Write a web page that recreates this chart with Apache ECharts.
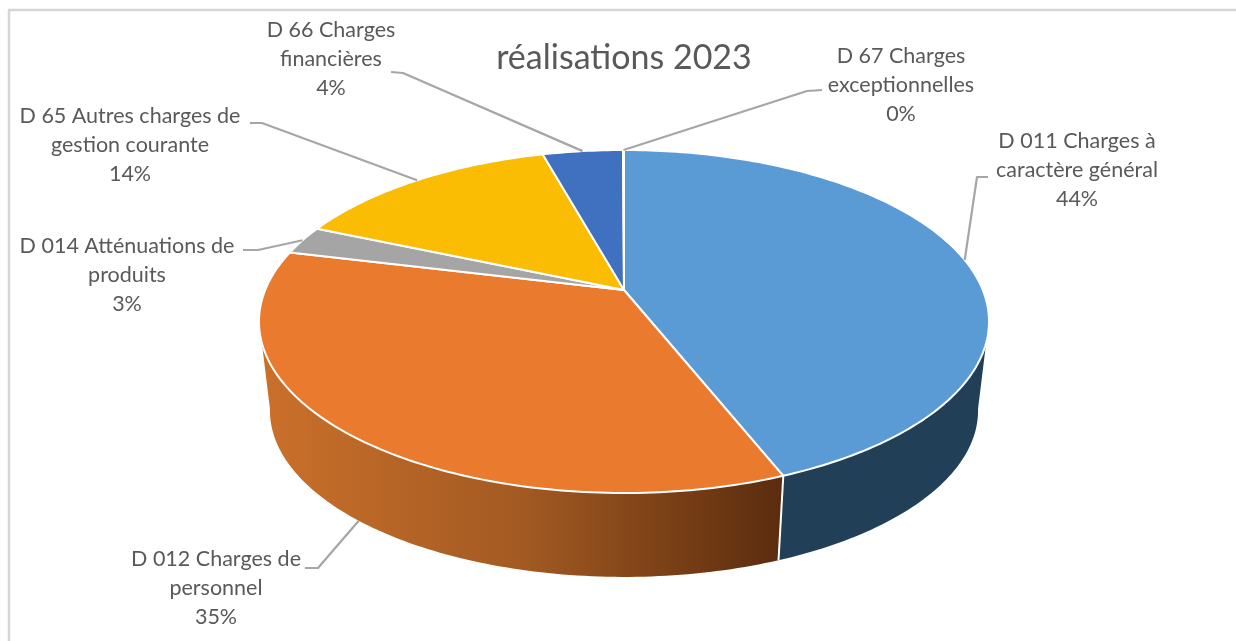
<!DOCTYPE html>
<html lang="fr">
<head>
<meta charset="utf-8">
<title>réalisations 2023</title>
<style>
  html, body { margin: 0; padding: 0; background: #fff; }
  #chart { width: 1236px; height: 641px; }
</style>
<script src="https://cdn.jsdelivr.net/npm/echarts@6/dist/echarts.min.js"></script>
</head>
<body>
<div id="chart"></div>
<script>
// Budget shares per chapter, clockwise from twelve o'clock.
const chartTitle = 'réalisations 2023';
const categories = [
  'D 011 Charges à\ncaractère général',
  'D 012 Charges de\npersonnel',
  'D 014 Atténuations de\nproduits',
  'D 65 Autres charges de\ngestion courante',
  'D 66 Charges\nfinancières',
  'D 67 Charges\nexceptionnelles'
];
const values = [44.0, 34.8, 2.7, 14.2, 4.25, 0.05];
const topColors = ['#5B9BD5', '#E97A2E', '#A5A5A5', '#FBBC04', '#4070C0', '#264478'];
const wallColors = ['#223F58', null, '#636363', '#997300', '#264478', '#1A2E50'];

// Projection of the tilted disc: apex, radii, foreshortening and extrusion.
const DISC = { cx: 624, cy: 290, rx: 358.8, ry: 165.7, persp: 0.1837, floorScale: 0.97, floorDrop: 90 };
const WALL_RANGE = [100, 260];

// Label centres and leader elbow points, in slice order.
const labelCentres = [[1077, 170], [216, 588], [127, 275], [130, 145], [331, 59], [901, 85]];
const leaderPaths = [
  [[988, 177], [977, 177]],
  [[305, 568], [318, 568]],
  [[243, 250], [258, 250]],
  [[250, 123], [262, 123]],
  [[391, 72], [403, 73]],
  [[822, 90], [807, 91]]
];

const total = values.reduce((a, b) => a + b, 0);
const starts = [];
values.reduce((acc, v, i) => { starts[i] = acc; return acc + v; }, 0);
const toAngle = (v) => (v / total) * 360;

function rim(deg) {
  const t = deg * Math.PI / 180;
  const u = Math.sin(t), v = Math.cos(t);
  const d = 1 + DISC.persp * v;
  return [DISC.cx + DISC.rx * u / d, DISC.cy - DISC.ry * v / d];
}
function floor(deg) {
  const p = rim(deg);
  return [
    DISC.cx + (p[0] - DISC.cx) * DISC.floorScale,
    DISC.cy + (p[1] - DISC.cy) * DISC.floorScale + DISC.floorDrop
  ];
}
function arc(fn, a, b) {
  const pts = [];
  const steps = Math.max(2, Math.ceil(Math.abs(b - a)));
  for (let k = 0; k <= steps; k++) pts.push(fn(a + (b - a) * k / steps));
  return pts;
}

const orangeWall = {
  type: 'linear', x: 0, y: 0, x2: 1, y2: 0,
  colorStops: [
    { offset: 0, color: '#CB702B' },
    { offset: 0.5, color: '#A35A22' },
    { offset: 1, color: '#5A2C0E' }
  ]
};

function renderWall(params, api) {
  const i = params.dataIndex;
  const a = Math.max(toAngle(starts[i]), WALL_RANGE[0]);
  const b = Math.min(toAngle(starts[i] + api.value(0)), WALL_RANGE[1]);
  if (b <= a) return { type: 'group', children: [] };
  const points = arc(rim, a, b).concat(arc(floor, a, b).reverse());
  const children = [{
    type: 'polygon',
    shape: { points },
    style: { fill: i === 1 ? orangeWall : wallColors[i] }
  }];
  if (a > WALL_RANGE[0]) {
    const p = rim(a), q = floor(a);
    children.push({
      type: 'line',
      shape: { x1: p[0], y1: p[1], x2: q[0], y2: q[1] },
      style: { stroke: '#FFFFFF', lineWidth: 2 },
      z2: 5
    });
  }
  return { type: 'group', children };
}

function renderTop(params, api) {
  const i = params.dataIndex;
  const a = toAngle(starts[i]);
  const b = toAngle(starts[i] + api.value(0));
  const points = [[DISC.cx, DISC.cy]].concat(arc(rim, a, b));
  return {
    type: 'polygon',
    shape: { points },
    style: { fill: topColors[i], stroke: '#FFFFFF', lineWidth: 2, lineJoin: 'round' }
  };
}

function renderLabel(params, api) {
  const i = params.dataIndex;
  const mid = toAngle(starts[i] + api.value(0) / 2);
  const inFront = mid > WALL_RANGE[0] && mid < WALL_RANGE[1];
  const anchor = inFront ? floor(mid) : rim(mid);
  const c = labelCentres[i];
  const pct = Math.round(api.value(0) / total * 100) + '%';
  return {
    type: 'group',
    children: [
      {
        type: 'polyline',
        shape: { points: leaderPaths[i].concat([anchor]) },
        style: { fill: 'none', stroke: '#A6A6A6', lineWidth: 2.2, lineJoin: 'round' }
      },
      {
        type: 'text',
        style: {
          x: c[0], y: c[1],
          text: categories[i] + '\n' + pct,
          fill: '#595959',
          fontFamily: 'Lato',
          fontSize: 21.5,
          lineHeight: 29.3,
          align: 'center',
          verticalAlign: 'middle'
        }
      }
    ]
  };
}

const sliceData = values.map((v) => [v]);
const chart = echarts.init(document.getElementById('chart'), null, { renderer: 'canvas' });
chart.setOption({
  animation: false,
  backgroundColor: '#FFFFFF',
  title: {
    text: chartTitle,
    left: 619,
    top: 36,
    textAlign: 'center',
    textStyle: { fontFamily: 'Lato', fontSize: 34, fontWeight: 'normal', color: '#595959' }
  },
  graphic: [
    { type: 'line', shape: { x1: 9, y1: 10, x2: 9, y2: 641 }, style: { stroke: '#D6D6D6', lineWidth: 2.5 }, silent: true },
    { type: 'line', shape: { x1: 8, y1: 10, x2: 1236, y2: 10 }, style: { stroke: '#D6D6D6', lineWidth: 2.5 }, silent: true }
  ],
  series: [
    { type: 'custom', coordinateSystem: 'none', silent: true, z: 2, data: sliceData, renderItem: renderWall },
    { type: 'custom', coordinateSystem: 'none', silent: true, z: 3, data: sliceData, renderItem: renderTop },
    { type: 'custom', coordinateSystem: 'none', silent: true, z: 4, data: sliceData, renderItem: renderLabel }
  ]
});
</script>
</body>
</html>
